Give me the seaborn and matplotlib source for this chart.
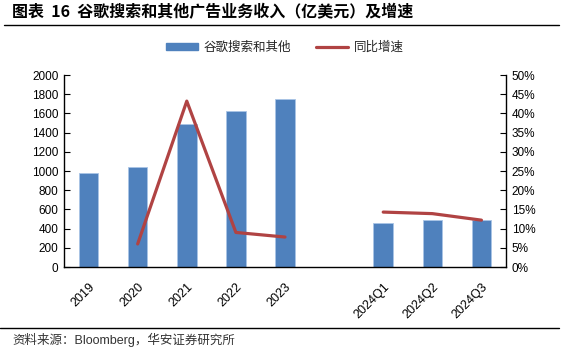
import matplotlib
matplotlib.use("Agg")
import matplotlib.pyplot as plt
import matplotlib.ticker as mticker
from matplotlib.lines import Line2D
from matplotlib.patches import Patch
import numpy as np
import pandas as pd
import seaborn as sns

# Data
categories = ["2019", "2020", "2021", "2022", "2023", " ", "2024Q1", "2024Q2", "2024Q3"]
revenue = [981, 1040, 1489, 1625, 1752, np.nan, 462, 487, 494]  # 亿美元
growth = [np.nan, 6.0, 43.2, 9.0, 7.8, np.nan, 14.3, 13.9, 12.2]  # %
segment = [0, 0, 0, 0, 0, 1, 1, 1, 1]

bar_color = "#4F81BD"
line_color = "#B04343"

sns.set_theme(style="white")
plt.rcParams["font.family"] = ["Liberation Sans", "Noto Sans CJK SC", "DejaVu Sans"]

df = pd.DataFrame({"cat": categories, "revenue": revenue, "growth": growth, "seg": segment})
df["pos"] = np.arange(len(df))

fig = plt.figure(figsize=(5.81, 3.54), dpi=100)
ax = fig.add_axes([64 / 581, 1 - 267 / 354, 442 / 581, 192 / 354])

sns.barplot(data=df, x="cat", y="revenue", order=categories, color=bar_color,
            width=0.4, edgecolor="#A9C4E6", linewidth=0.6, saturation=1, ax=ax)
ax.set_xlim(-0.5, len(categories) - 0.5)
ax.set_ylim(0, 2000)
ax.yaxis.set_major_locator(mticker.MultipleLocator(200))
ax.set_xlabel("")
ax.set_ylabel("")

ax2 = ax.twinx()
sns.lineplot(data=df.dropna(subset=["growth"]), x="pos", y="growth", units="seg",
             estimator=None, color=line_color, linewidth=2.3, ax=ax2, legend=False)
ax2.set_ylim(0, 50)
ax2.yaxis.set_major_locator(mticker.MultipleLocator(5))
ax2.yaxis.set_major_formatter(mticker.FuncFormatter(lambda v, p: f"{v:.0f}%"))
ax2.set_xlabel("")
ax2.set_ylabel("")
ax2.set_xlim(-0.5, len(categories) - 0.5)

for a in (ax, ax2):
    a.spines["top"].set_visible(False)
    for s in a.spines.values():
        s.set_color("black")
        s.set_linewidth(1.0)
ax.spines["right"].set_visible(False)
ax2.spines["left"].set_visible(False)
ax2.spines["bottom"].set_visible(False)

ax.tick_params(axis="y", direction="in", length=4, width=0.8, left=True, labelsize=8.5, pad=4, colors="black")
ax.tick_params(axis="x", bottom=False, labelsize=9, pad=4, colors="black")
ax2.tick_params(axis="y", direction="in", length=4, width=0.8, right=True, labelsize=8.5, pad=4, colors="black")
for lbl in ax.get_xticklabels():
    lbl.set_rotation(45)
    lbl.set_ha("right")
    lbl.set_rotation_mode("anchor")

# legend
handles = [Patch(facecolor=bar_color, edgecolor=bar_color),
           Line2D([0], [0], color=line_color, linewidth=2.3)]
fig.legend(handles, ["谷歌搜索和其他", "同比增速"], loc="center", bbox_to_anchor=(0.49, 1 - 47 / 354),
           ncol=2, frameon=False, handlelength=2.6, handleheight=0.5,
           columnspacing=2.0, handletextpad=0.4, prop={"family": ["Noto Sans CJK SC"], "size": 9})

# title, rules and source
fig.text(12 / 581, 1 - 12 / 354, "图表  16  谷歌搜索和其他广告业务收入（亿美元）及增速", fontsize=11.5,
         fontweight="bold", va="center", ha="left", color="black",
         family=["Noto Sans CJK SC", "DejaVu Sans"])
fig.add_artist(Line2D([4 / 581, 559 / 581], [1 - 25 / 354, 1 - 25 / 354], color="black", linewidth=1.0))
fig.add_artist(Line2D([0, 559 / 581], [1 - 328 / 354, 1 - 328 / 354], color="black", linewidth=1.0))
fig.text(12 / 581, 1 - 340 / 354, "资料来源：Bloomberg，华安证券研究所", fontsize=9, va="center", ha="left",
         color="#333333", family=["Liberation Sans", "Noto Sans CJK SC"])

fig.savefig("out.png", dpi=100)
